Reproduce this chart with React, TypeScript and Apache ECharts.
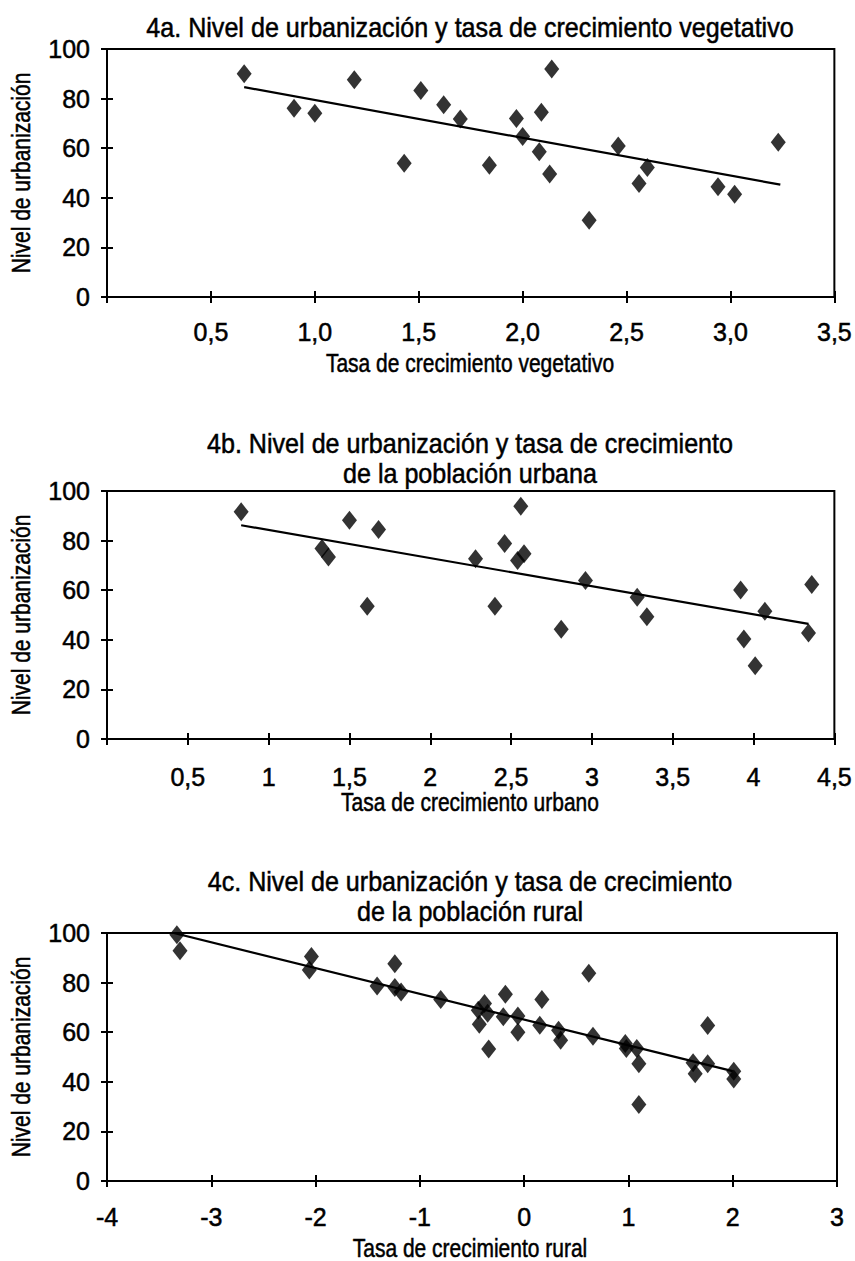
import React, { useEffect, useRef } from "react";
import * as echarts from "echarts";

// ---------- DATA ----------
const pointsA: [number, number][] = [
  [0.66, 90.0], [0.9, 76.1], [1.0, 74.1], [1.19, 87.6], [1.43, 53.9], [1.51, 83.3],
  [1.62, 77.5], [1.7, 71.8], [1.84, 53.1], [1.97, 72.0], [2.0, 64.7], [2.09, 74.5],
  [2.08, 58.6], [2.14, 91.9], [2.13, 49.6], [2.32, 30.9], [2.46, 60.9], [2.56, 45.8],
  [2.6, 52.2], [2.94, 44.5], [3.02, 41.4], [3.23, 62.4],
];
const trendA: [number, number][] = [[0.66, 84.6], [3.24, 45.3]];

const pointsB: [number, number][] = [
  [0.83, 91.6], [1.33, 76.8], [1.37, 73.4], [1.5, 88.2], [1.61, 53.5], [1.68, 84.5],
  [2.28, 72.7], [2.4, 53.5], [2.46, 78.8], [2.56, 93.9], [2.54, 72.0], [2.58, 74.7],
  [2.81, 44.3], [2.96, 63.9], [3.28, 57.2], [3.34, 49.3], [3.92, 60.1], [3.94, 40.3],
  [4.01, 29.5], [4.07, 51.5], [4.34, 42.7], [4.36, 62.3],
];
const trendB: [number, number][] = [[0.83, 86.2], [4.34, 46.4]];

const pointsC: [number, number][] = [
  [-3.33, 99.3], [-3.3, 92.8], [-2.04, 90.5], [-2.06, 85.1], [-1.24, 87.6], [-1.41, 78.6],
  [-1.24, 78.0], [-1.18, 76.2], [-0.8, 73.2], [-0.38, 71.6], [-0.44, 68.9], [-0.35, 67.6],
  [-0.43, 63.2], [-0.34, 53.2], [-0.18, 75.3], [-0.2, 66.2], [-0.06, 66.5], [-0.06, 60.0],
  [0.17, 73.2], [0.15, 62.8], [0.33, 60.8], [0.35, 56.8], [0.62, 83.8], [0.66, 58.4],
  [0.97, 55.4], [0.98, 53.4], [1.08, 53.4], [1.1, 47.3], [1.1, 30.8], [1.62, 47.7],
  [1.64, 43.2], [1.76, 62.7], [1.76, 47.3], [2.01, 44.3], [2.01, 41.1],
];
const trendC: [number, number][] = [[-3.36, 100], [2.0, 44.3]];

const titleA = ["4a. Nivel de urbanización y tasa de crecimiento vegetativo"];
const titleB = ["4b. Nivel de urbanización y tasa de crecimiento", "de la población urbana"];
const titleC = ["4c. Nivel de urbanización y tasa de crecimiento", "de la población rural"];
const xNameA = "Tasa de crecimiento vegetativo";
const xNameB = "Tasa de crecimiento urbano";
const xNameC = "Tasa de crecimiento rural";
const yName = "Nivel de urbanización";

const yRange = { min: 0, max: 100, interval: 20 };
const xRangeA = { min: 0, max: 3.5, interval: 0.5 };
const xRangeB = { min: 0, max: 4.5, interval: 0.5 };
const xRangeC = { min: -4, max: 3, interval: 1 };

// ---------- STYLE ----------
const FONT = "'Liberation Sans', Arial, Helvetica, sans-serif";
const GRID_LEFT = 107;
const GRID_W = 730;
const GRID_H = 248;

const fmtA = (v: number) => (v === 0 ? "" : v.toFixed(1).replace(".", ","));
const fmtB = (v: number) => (v === 0 ? "" : String(v).replace(".", ","));
const fmtC = (v: number) => String(v);

const panels = [
  { top: 49, x: xRangeA, fmt: fmtA, labelMargin: 22, pts: pointsA, trend: trendA, title: titleA, titleY: 28, xName: xNameA, xNameY: 363 },
  { top: 491, x: xRangeB, fmt: fmtB, labelMargin: 25, pts: pointsB, trend: trendB, title: titleB, titleY: 444, xName: xNameB, xNameY: 802 },
  { top: 933, x: xRangeC, fmt: fmtC, labelMargin: 23, pts: pointsC, trend: trendC, title: titleC, titleY: 882, xName: xNameC, xNameY: 1248 },
];

function txt(text: string, x: number, y: number, size: number, sx = 1, rotation = 0) {
  return {
    type: "text",
    x,
    y,
    rotation,
    scaleX: sx,
    silent: true,
    style: {
      text,
      fill: "#000",
      stroke: "#000",
      lineWidth: 0.5,
      font: `${size}px ${FONT}`,
      fontSize: size,
      fontFamily: FONT,
      align: "center",
      verticalAlign: "middle",
      textAlign: "center",
      textVerticalAlign: "middle",
    },
  };
}

function buildOption() {
  const grid: any[] = [];
  const xAxis: any[] = [];
  const yAxis: any[] = [];
  const series: any[] = [];
  const graphic: any[] = [];

  panels.forEach((p, i) => {
    grid.push({
      left: GRID_LEFT,
      top: p.top,
      width: GRID_W,
      height: GRID_H,
      show: true,
      borderColor: "#000",
      borderWidth: 2,
      containLabel: false,
    });
    const xBase = {
      type: "value",
      gridIndex: i,
      min: p.x.min,
      max: p.x.max,
      interval: p.x.interval,
      position: "bottom",
      splitLine: { show: false },
    };
    xAxis.push({
      ...xBase,
      axisLine: { show: true, onZero: false, lineStyle: { color: "#000", width: 2 } },
      axisTick: { show: true, inside: false, length: 6, lineStyle: { color: "#000", width: 2 } },
      axisLabel: {
        show: true,
        margin: p.labelMargin,
        color: "#000",
        fontSize: 25,
        lineHeight: 25,
        fontFamily: FONT,
        textBorderColor: "#000",
        textBorderWidth: 0.5,
        formatter: p.fmt,
        showMinLabel: true,
        showMaxLabel: true,
      },
    });
    xAxis.push({
      ...xBase,
      axisLine: { show: false, onZero: false },
      axisTick: { show: true, inside: true, length: 6, lineStyle: { color: "#000", width: 2 } },
      axisLabel: { show: false },
    });
    const yBase = {
      type: "value",
      gridIndex: i,
      min: yRange.min,
      max: yRange.max,
      interval: yRange.interval,
      position: "left",
      splitLine: { show: false },
    };
    yAxis.push({
      ...yBase,
      axisLine: { show: true, onZero: false, lineStyle: { color: "#000", width: 2 } },
      axisTick: { show: true, inside: false, length: 6, lineStyle: { color: "#000", width: 2 } },
      axisLabel: {
        show: true,
        margin: 17,
        color: "#000",
        fontSize: 25,
        lineHeight: 25,
        fontFamily: FONT,
        textBorderColor: "#000",
        textBorderWidth: 0.5,
      },
    });
    yAxis.push({
      ...yBase,
      axisLine: { show: false, onZero: false },
      axisTick: { show: true, inside: true, length: 6, lineStyle: { color: "#000", width: 2 } },
      axisLabel: { show: false },
    });

    series.push({
      type: "line",
      xAxisIndex: i * 2,
      yAxisIndex: i * 2,
      data: p.trend,
      showSymbol: false,
      symbol: "none",
      lineStyle: { color: "#000", width: 2.2 },
      z: 3,
    });
    series.push({
      type: "scatter",
      xAxisIndex: i * 2,
      yAxisIndex: i * 2,
      data: p.pts,
      symbol: "diamond",
      symbolSize: [15, 19],
      itemStyle: { color: "#000" },
      z: 4,
    });

    const cx = GRID_LEFT + GRID_W / 2 - 2;
    p.title.forEach((line, k) => graphic.push(txt(line, cx, p.titleY + k * 30, 27, 0.93)));
    graphic.push(txt(p.xName, cx, p.xNameY, 25, 0.84));
    graphic.push(txt(yName, 21, p.top + GRID_H / 2, 25, 0.84, Math.PI / 2));
  });

  return {
    animation: false,
    backgroundColor: "#fff",
    grid,
    xAxis,
    yAxis,
    series,
    graphic,
  };
}

export default function App() {
  const ref = useRef<HTMLDivElement>(null);
  useEffect(() => {
    if (!ref.current) return;
    const chart = echarts.init(ref.current, undefined, { renderer: "svg" });
    chart.setOption(buildOption() as any);
    return () => chart.dispose();
  }, []);
  return (
    <div
      ref={ref}
      style={{ position: "absolute", left: 0, top: 0, width: 855, height: 1261, background: "#fff" }}
    />
  );
}
